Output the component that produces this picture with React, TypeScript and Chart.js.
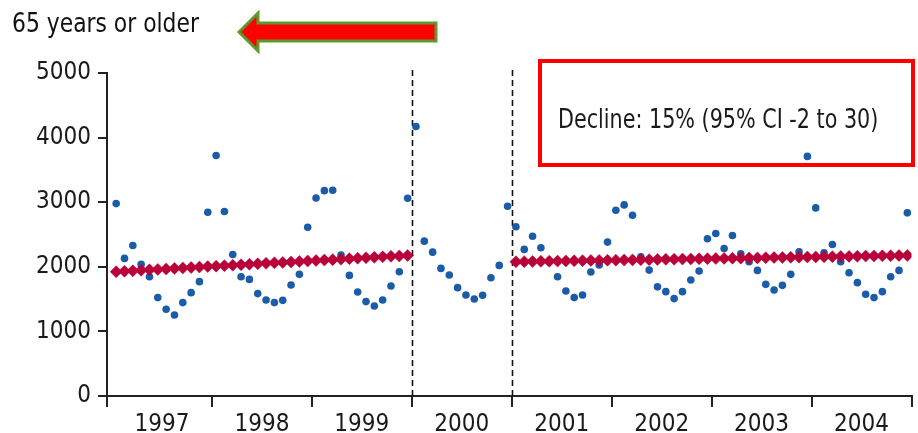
import React, { useEffect, useRef } from "react";
import { Chart, registerables } from "chart.js";

Chart.register(...registerables);

// ---------- data ----------
const years = ["1997", "1998", "1999", "2000", "2001", "2002", "2003", "2004"];

const obs1997 = [2978, 2130, 2330, 2037, 1847, 1523, 1343, 1255, 1446, 1600, 1770, 2845];
const obs1998 = [3724, 2855, 2191, 1847, 1805, 1585, 1486, 1446, 1481, 1718, 1883, 2613];
const obs1999 = [3066, 3179, 3184, 2181, 1867, 1610, 1461, 1394, 1486, 1702, 1924, 3060];
const obs2000 = [4171, 2397, 2227, 1975, 1872, 1677, 1564, 1502, 1559, 1831, 2022, 2937];
const obs2001 = [2619, 2269, 2474, 2294, 2080, 1847, 1625, 1523, 1564, 1919, 2027, 2382];
const obs2002 = [2875, 2958, 2798, 2156, 1949, 1690, 1615, 1508, 1615, 1795, 1934, 2434];
const obs2003 = [2515, 2284, 2485, 2202, 2080, 1944, 1728, 1641, 1713, 1883, 2233, 3709];
const obs2004 = [2912, 2218, 2346, 2079, 1909, 1755, 1574, 1523, 1615, 1847, 1944, 2835];

// fitted trend, Jan 1997 - Dec 1999
const trend1997to1999 = [
  1924, 1931, 1938, 1946, 1953, 1960, 1967, 1974, 1982, 1989, 1996, 2003,
  2010, 2018, 2025, 2032, 2039, 2046, 2054, 2061, 2068, 2075, 2082, 2090,
  2097, 2104, 2111, 2118, 2126, 2133, 2140, 2147, 2154, 2162, 2169, 2176,
];
// fitted trend, Jan 2001 - Dec 2004
const trend2001to2004 = [
  2078, 2080, 2082, 2084, 2086, 2088, 2091, 2093, 2095, 2097, 2099, 2101,
  2103, 2105, 2107, 2109, 2111, 2113, 2116, 2118, 2120, 2122, 2124, 2126,
  2128, 2130, 2132, 2134, 2136, 2138, 2141, 2143, 2145, 2147, 2149, 2151,
  2153, 2155, 2157, 2159, 2161, 2163, 2166, 2168, 2170, 2172, 2174, 2176,
];
const trend1StartMonth = 0;
const trend2StartMonth = 48;

const yTickValues = [0, 1000, 2000, 3000, 4000, 5000];
const breakMonths = [36, 48]; // dashed lines: start of 2000 and 2001

const titleText = "65 years or older";
const annotationText = "Decline: 15% (95% CI -2 to 30)";

const FONT = '"Liberation Sans Narrow", "DejaVu Sans Condensed", "DejaVu Sans", sans-serif';

// ---------- component ----------
export default function App() {
  const canvasRef = useRef<HTMLCanvasElement | null>(null);

  useEffect(() => {
    const canvas = canvasRef.current;
    if (!canvas) return;

    const observed = [obs1997, obs1998, obs1999, obs2000, obs2001, obs2002, obs2003, obs2004]
      .flat()
      .map((v, i) => ({ x: i + 0.5, y: v }));
    const trendA = trend1997to1999.map((v, i) => ({ x: trend1StartMonth + i + 0.5, y: v }));
    const trendB = trend2001to2004.map((v, i) => ({ x: trend2StartMonth + i + 0.5, y: v }));

    const xMin = -0.6;
    const xMax = years.length * 12;

    const dashedLines = {
      id: "dashedLines",
      beforeDatasetsDraw(chart: any) {
        const { ctx, scales } = chart;
        const xs = scales.x;
        const ys = scales.y;
        ctx.save();
        ctx.strokeStyle = "#111";
        ctx.lineWidth = 1.6;
        ctx.setLineDash([6, 4]);
        breakMonths.forEach((m) => {
          const px = Math.round(xs.getPixelForValue(m)) + 0.5;
          ctx.beginPath();
          ctx.moveTo(px, ys.getPixelForValue(5000) - 3);
          ctx.lineTo(px, ys.getPixelForValue(0));
          ctx.stroke();
        });
        ctx.restore();
      },
    };

    const chart = new Chart(canvas, {
      type: "scatter",
      data: {
        datasets: [
          {
            label: "Trend 1997-1999",
            data: trendA,
            pointStyle: "rectRot",
            pointRadius: 6,
            pointBackgroundColor: "#b8003a",
            pointBorderColor: "#b8003a",
            pointBorderWidth: 0.5,
            showLine: false,
            order: 0,
          },
          {
            label: "Trend 2001-2004",
            data: trendB,
            pointStyle: "rectRot",
            pointRadius: 6,
            pointBackgroundColor: "#b8003a",
            pointBorderColor: "#b8003a",
            pointBorderWidth: 0.5,
            showLine: false,
            order: 0,
          },
          {
            label: "Observed",
            data: observed,
            pointStyle: "circle",
            pointRadius: 3.8,
            pointBackgroundColor: "#1a5ca8",
            pointBorderWidth: 0,
            showLine: false,
            order: 1,
          },
        ],
      },
      options: {
        responsive: false,
        animation: false,
        events: [],
        layout: { padding: { top: 73, right: 3.5, left: 0, bottom: 0 } },
        plugins: {
          legend: { display: false },
          tooltip: { enabled: false },
          title: { display: false },
        },
        scales: {
          x: {
            type: "linear",
            min: xMin,
            max: xMax,
            afterBuildTicks: (scale: any) => {
              const t = [{ value: xMin }];
              for (let k = 1; k <= years.length * 2; k++) t.push({ value: k * 6 });
              scale.ticks = t;
            },
            afterFit: (scale: any) => {
              scale.height = 37;
            },
            ticks: {
              autoSkip: false,
              maxRotation: 0,
              padding: 3,
              color: "#1a1a1a",
              font: { family: FONT, size: 24 },
              callback: (value: any) => {
                const v = Number(value);
                if (v > 0 && v % 12 === 6) return years[(v - 6) / 12];
                return "";
              },
            },
            grid: {
              drawOnChartArea: false,
              drawTicks: true,
              tickLength: 11,
              lineWidth: 2,
              color: (c: any) => (c.index % 2 === 0 ? "#222" : "rgba(0,0,0,0)"),
            },
            border: { display: true, color: "#222", width: 2 },
          },
          y: {
            type: "linear",
            min: 0,
            max: 5000,
            afterBuildTicks: (scale: any) => {
              scale.ticks = yTickValues.map((v) => ({ value: v }));
            },
            afterFit: (scale: any) => {
              scale.width = 107;
            },
            ticks: {
              padding: 7,
              color: "#1a1a1a",
              font: { family: FONT, size: 24 },
              callback: (value: any) => String(value),
            },
            grid: {
              drawOnChartArea: false,
              drawTicks: true,
              tickLength: 9,
              lineWidth: 2,
              color: "#222",
            },
            border: { display: true, color: "#222", width: 2 },
          },
        },
      },
      plugins: [dashedLines],
    } as any);

    return () => {
      chart.destroy();
    };
  }, []);

  return (
    <div
      style={{
        position: "fixed",
        left: 0,
        top: 0,
        width: 918,
        height: 433,
        background: "#fff",
        overflow: "hidden",
      }}
    >
      <canvas ref={canvasRef} width={918} height={433} style={{ display: "block" }} />
      <div
        style={{
          position: "absolute",
          left: 12,
          top: 7,
          fontFamily: FONT,
          fontSize: 27,
          color: "#111",
          whiteSpace: "nowrap",
          lineHeight: "32px",
          transform: "scaleX(0.9)",
          transformOrigin: "0 0",
        }}
      >
        {titleText}
      </div>
      <svg
        width={918}
        height={60}
        style={{ position: "absolute", left: 0, top: 0 }}
      >
        <polygon
          points="239,32 258,13 258,23 436,23 436,41 258,41 258,51"
          fill="#ff0000"
          stroke="#5b9b2b"
          strokeWidth={3}
          strokeLinejoin="miter"
        />
      </svg>
      <div
        style={{
          position: "absolute",
          left: 538,
          top: 59,
          width: 377,
          height: 108,
          boxSizing: "border-box",
          border: "4px solid #ff0000",
        }}
      />
      <div
        style={{
          position: "absolute",
          left: 558,
          top: 103,
          fontFamily: FONT,
          fontSize: 26,
          color: "#1a1a1a",
          whiteSpace: "nowrap",
          lineHeight: "32px",
          transform: "scaleX(0.885)",
          transformOrigin: "0 0",
        }}
      >
        {annotationText}
      </div>
    </div>
  );
}
